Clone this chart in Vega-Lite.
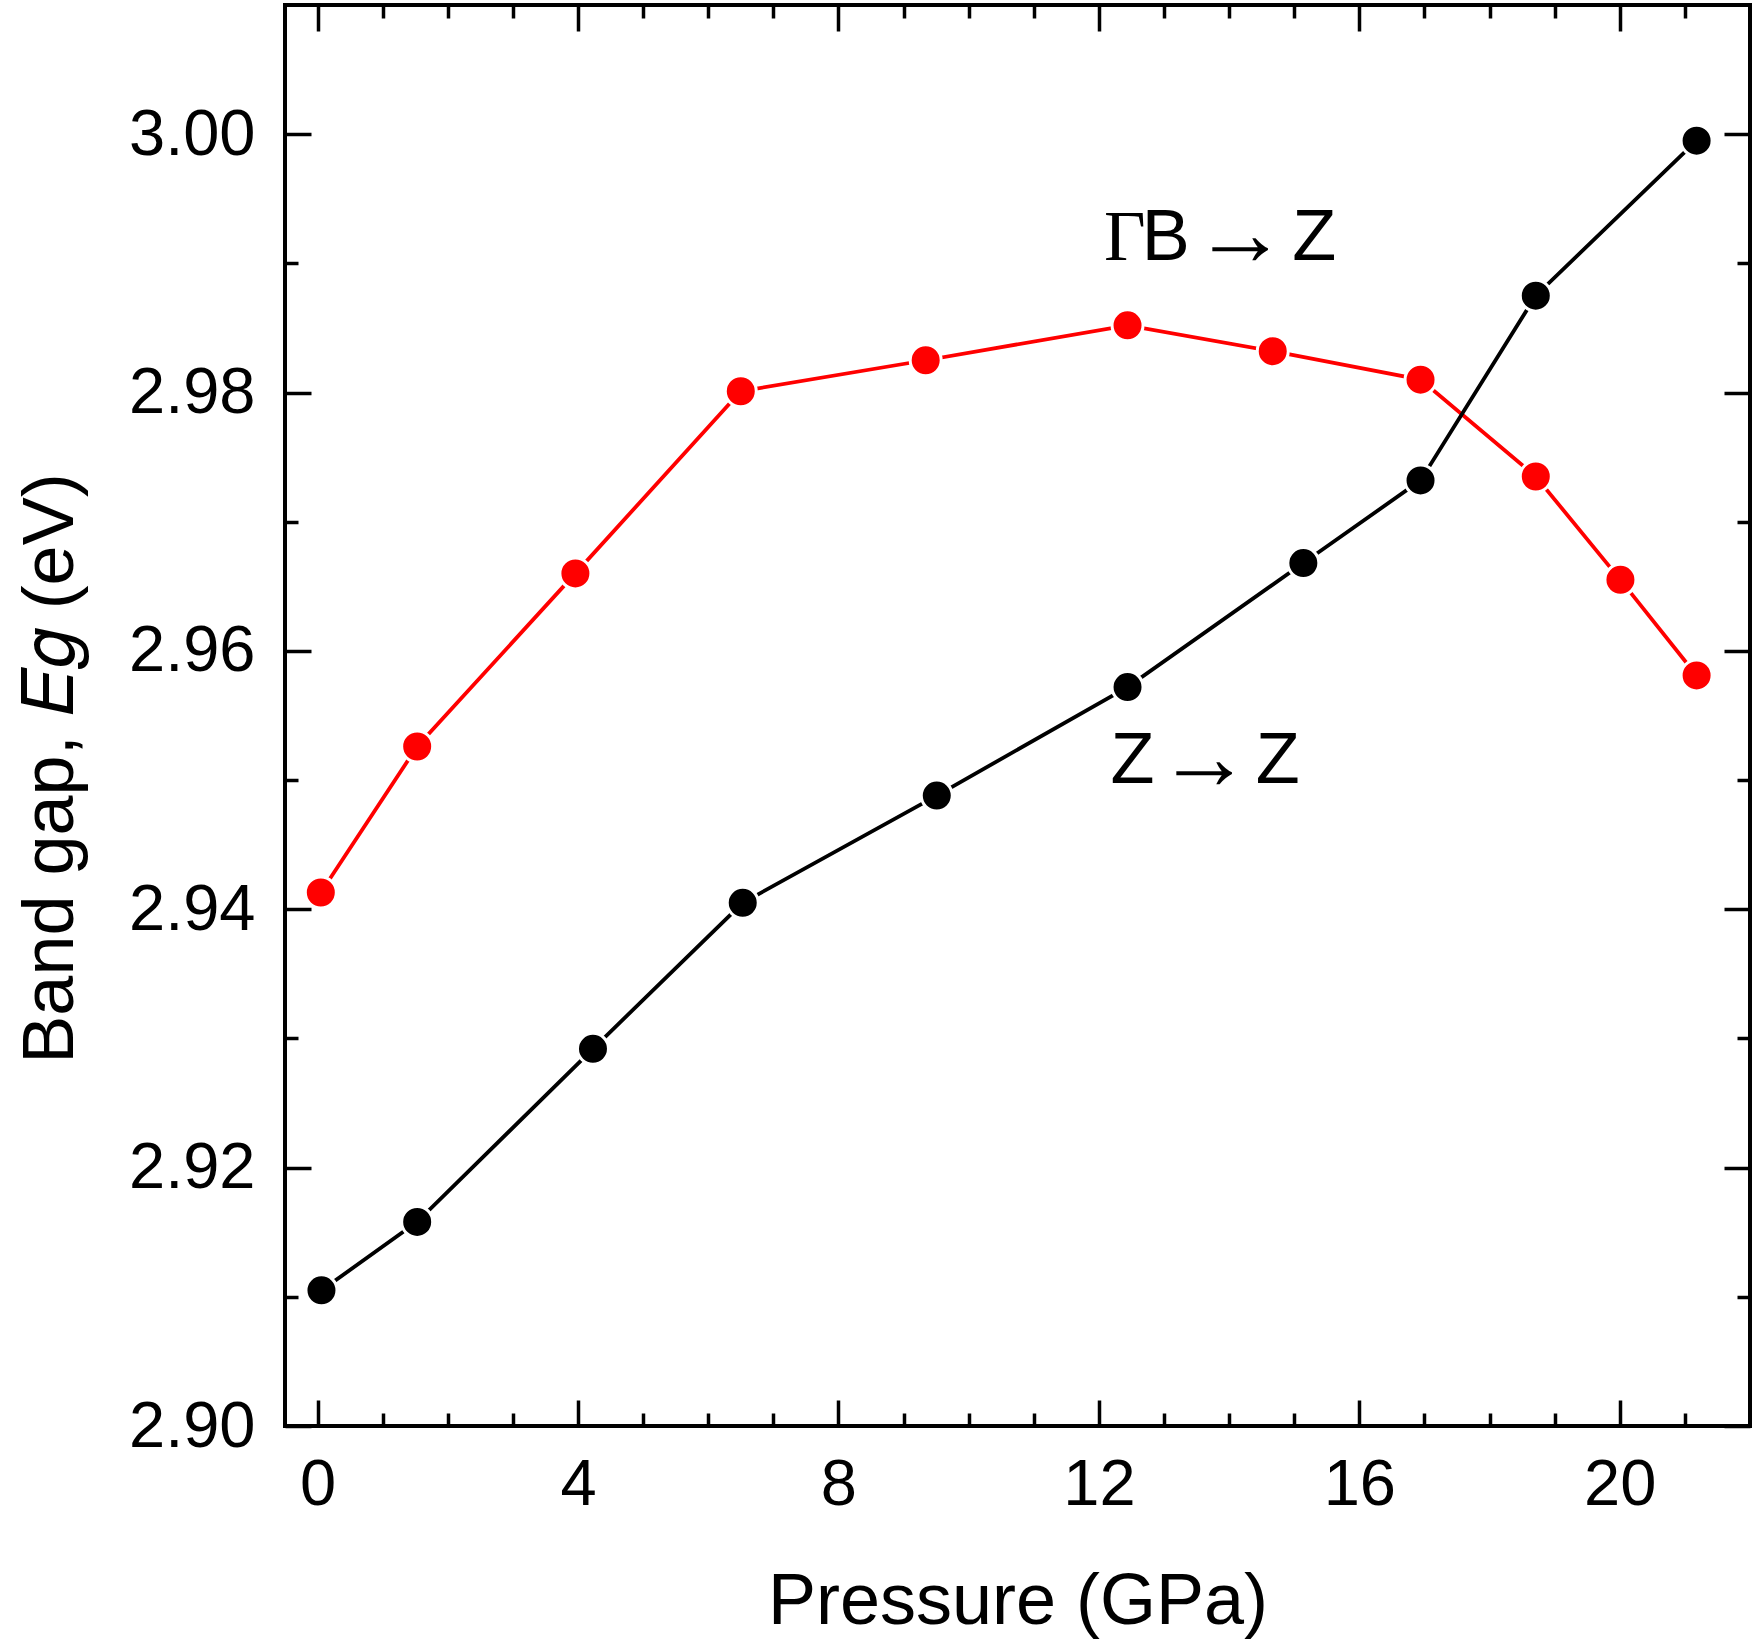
{
  "$schema": "https://vega.github.io/schema/vega-lite/v6.json",
  "autosize": {"type": "none"},
  "padding": {"left": 285, "top": 5, "right": 9, "bottom": 218},
  "width": 1465,
  "height": 1421,
  "background": "white",
  "config": {
    "view": {"stroke": "black", "strokeWidth": 4},
    "font": "Liberation Sans",
    "axis": {"domain": false, "grid": false, "tickColor": "black", "tickWidth": 3.5, "labelColor": "black", "titleColor": "black", "labelFont": "Liberation Sans", "titleFont": "Liberation Sans", "titleFontWeight": "normal", "labelFontSize": 65, "titleFontSize": 72}
  },
  "datasets": {
    "series": [
      {"P": 0.05, "Eg": 2.9413, "s": "ΓB → Z"},
      {"P": 1.53, "Eg": 2.9526, "s": "ΓB → Z"},
      {"P": 3.96, "Eg": 2.9660, "s": "ΓB → Z"},
      {"P": 6.50, "Eg": 2.9801, "s": "ΓB → Z"},
      {"P": 9.34, "Eg": 2.9825, "s": "ΓB → Z"},
      {"P": 12.44, "Eg": 2.9852, "s": "ΓB → Z"},
      {"P": 14.67, "Eg": 2.9832, "s": "ΓB → Z"},
      {"P": 16.94, "Eg": 2.9810, "s": "ΓB → Z"},
      {"P": 18.71, "Eg": 2.9735, "s": "ΓB → Z"},
      {"P": 20.01, "Eg": 2.9655, "s": "ΓB → Z"},
      {"P": 21.18, "Eg": 2.9581, "s": "ΓB → Z"},
      {"P": 0.06, "Eg": 2.9105, "s": "Z → Z"},
      {"P": 1.53, "Eg": 2.9158, "s": "Z → Z"},
      {"P": 4.23, "Eg": 2.9292, "s": "Z → Z"},
      {"P": 6.53, "Eg": 2.9405, "s": "Z → Z"},
      {"P": 9.51, "Eg": 2.9488, "s": "Z → Z"},
      {"P": 12.44, "Eg": 2.9572, "s": "Z → Z"},
      {"P": 15.14, "Eg": 2.9668, "s": "Z → Z"},
      {"P": 16.94, "Eg": 2.9732, "s": "Z → Z"},
      {"P": 18.71, "Eg": 2.9875, "s": "Z → Z"},
      {"P": 21.18, "Eg": 2.9995, "s": "Z → Z"}
    ],
    "letters": [
      {"P": 12.66, "Eg": 2.99026, "t": "B"},
      {"P": 14.97, "Eg": 2.99026, "t": "Z"},
      {"P": 12.18, "Eg": 2.94978, "t": "Z"},
      {"P": 14.41, "Eg": 2.94978, "t": "Z"}
    ],
    "arrows": [
      {"P": 14.17, "Eg": 2.98984, "t": "→"},
      {"P": 13.62, "Eg": 2.94931, "t": "→"}
    ],
    "greek": [
      {"P": 12.08, "Eg": 2.99026, "t": "Γ"}
    ]
  },
  "resolve": {"axis": {"x": "independent", "y": "independent"}},
  "layer": [
    {
      "data": {"name": "series"},
      "mark": {"type": "line", "strokeWidth": 3.8},
      "encoding": {
        "x": {"field": "P", "type": "quantitative", "scale": {"domain": [-0.5, 22], "nice": false, "zero": false},
          "axis": {"orient": "bottom", "values": [0, 4, 8, 12, 16, 20], "tickSize": -26, "labelPadding": 53, "title": "Pressure (GPa)", "titleBaseline": "alphabetic", "titleY": 197}},
        "y": {"field": "Eg", "type": "quantitative", "scale": {"domain": [2.90, 3.01], "nice": false, "zero": false},
          "axis": {"orient": "left", "values": [2.90, 2.92, 2.94, 2.96, 2.98, 3.00], "format": ".2f", "tickSize": -26, "labelPadding": 56, "title": "Band gap, 𝐸𝑔 (eV)", "titleBaseline": "alphabetic", "titleX": -213, "titleY": 763, "titleAngle": -90}},
        "color": {"field": "s", "type": "nominal", "scale": {"domain": ["ΓB → Z", "Z → Z"], "range": ["#ff0000", "#000000"]}, "legend": null}
      }
    },
    {
      "data": {"name": "series"},
      "mark": {"type": "point", "shape": "circle", "filled": true, "size": 961, "stroke": "white", "strokeWidth": 3, "opacity": 1},
      "encoding": {
        "x": {"field": "P", "type": "quantitative",
          "axis": {"orient": "top", "values": [0, 4, 8, 12, 16, 20], "tickSize": -26, "labels": false, "title": null}},
        "y": {"field": "Eg", "type": "quantitative",
          "axis": {"orient": "right", "values": [2.90, 2.92, 2.94, 2.96, 2.98, 3.00], "tickSize": -26, "labels": false, "title": null}},
        "fill": {"field": "s", "type": "nominal", "scale": {"domain": ["ΓB → Z", "Z → Z"], "range": ["#ff0000", "#000000"]}, "legend": null}
      }
    },
    {
      "data": {"name": "letters"},
      "mark": {"type": "text", "align": "left", "baseline": "alphabetic", "fontSize": 72, "font": "Liberation Sans", "color": "black"},
      "encoding": {
        "x": {"field": "P", "type": "quantitative",
          "axis": {"orient": "bottom", "values": [1, 2, 3, 5, 6, 7, 9, 10, 11, 13, 14, 15, 17, 18, 19, 21], "tickSize": -13, "labels": false, "title": null}},
        "y": {"field": "Eg", "type": "quantitative",
          "axis": {"orient": "left", "values": [2.91, 2.93, 2.95, 2.97, 2.99], "tickSize": -13, "labels": false, "title": null}},
        "text": {"field": "t"}
      }
    },
    {
      "data": {"name": "arrows"},
      "mark": {"type": "text", "align": "center", "baseline": "alphabetic", "fontSize": 94, "font": "Liberation Sans", "color": "black"},
      "encoding": {
        "x": {"field": "P", "type": "quantitative",
          "axis": {"orient": "top", "values": [1, 2, 3, 5, 6, 7, 9, 10, 11, 13, 14, 15, 17, 18, 19, 21], "tickSize": -13, "labels": false, "title": null}},
        "y": {"field": "Eg", "type": "quantitative",
          "axis": {"orient": "right", "values": [2.91, 2.93, 2.95, 2.97, 2.99], "tickSize": -13, "labels": false, "title": null}},
        "text": {"field": "t"}
      }
    },
    {
      "data": {"name": "greek"},
      "mark": {"type": "text", "align": "left", "baseline": "alphabetic", "fontSize": 72, "font": "Liberation Serif", "color": "black"},
      "encoding": {
        "x": {"field": "P", "type": "quantitative", "axis": null},
        "y": {"field": "Eg", "type": "quantitative", "axis": null},
        "text": {"field": "t"}
      }
    }
  ]
}
